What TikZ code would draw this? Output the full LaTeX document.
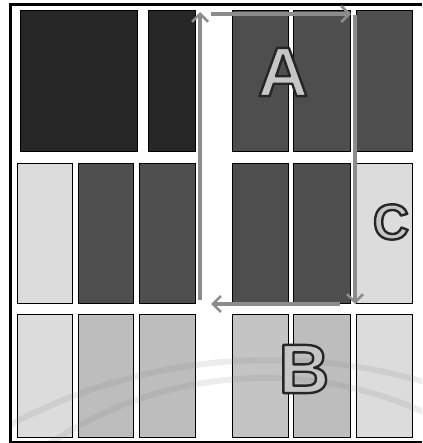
\documentclass[tikz,border=0pt]{standalone}
\usepackage{fontspec}
\setmainfont{Liberation Sans}
\usetikzlibrary{arrows.meta}
\definecolor{vdark}{HTML}{262626}
\definecolor{dgray}{HTML}{4E4E4E}
\definecolor{mgray}{HTML}{BDBDBD}
\definecolor{lgray}{HTML}{DCDCDC}
\definecolor{argray}{HTML}{8C8C8C}
\newcommand{\outl}[1]{\special{pdf:code q 0.15 G 2.4 w 1 J 1 j 2 Tr}#1\special{pdf:code 0 Tr Q}}
\tikzset{
  cell/.style={draw=black,line width=1pt},
  arr/.style={draw=argray,line width=3.5pt,-{Straight Barb[length=8pt,width=16pt,line width=2.5pt]}},
  letter/.style={text=gray!45,font=\bfseries\fontsize{70}{72}\selectfont,inner sep=0pt},
  wmark/.style={draw=gray,opacity=0.15,line width=6pt}
}
\begin{document}
\begin{tikzpicture}[x=1pt,y=-1pt]
\useasboundingbox (0,0) rectangle (422,443);
\fill[white] (0,0) rectangle (422,443);
% frame
\draw[line width=3pt] (10,445) -- (10,4.5) -- (422,4.5);
\draw[line width=2pt] (10,441.5) -- (422,441.5);
% top row
\path[cell,fill=vdark] (20,11) rectangle (137,152);
\path[cell,fill=vdark] (148,11) rectangle (195,152);
\path[cell,fill=dgray] (232,11) rectangle (288,152);
\path[cell,fill=dgray] (293,11) rectangle (350,152);
\path[cell,fill=dgray] (356,11) rectangle (412,152);
% middle row
\path[cell,fill=lgray] (17,164) rectangle (72,303);
\path[cell,fill=dgray] (78,164) rectangle (133,303);
\path[cell,fill=dgray] (139,164) rectangle (195,303);
\path[cell,fill=dgray] (232,164) rectangle (288,303);
\path[cell,fill=dgray] (293,164) rectangle (350,303);
\path[cell,fill=lgray] (356,164) rectangle (412,303);
% bottom row
\path[cell,fill=lgray] (17,314) rectangle (72,437);
\path[cell,fill=mgray] (78,314) rectangle (133,437);
\path[cell,fill=mgray] (139,314) rectangle (195,437);
\path[cell,fill=mgray!90!white] (232,314) rectangle (288,437);
\path[cell,fill=mgray] (293,314) rectangle (350,437);
\path[cell,fill=lgray] (356,314) rectangle (412,437);
% watermark arcs
\begin{scope}
\clip (12,340) rectangle (422,440);
\draw[wmark] (270,911) circle[radius=551];
\draw[wmark] (265,764) circle[radius=386];
\end{scope}
% arrows
\coordinate (p1) at (200,300);
\coordinate (p2) at (200,12);
\coordinate (p3) at (211,14);
\coordinate (p4) at (351,14);
\coordinate (p5) at (355,15);
\coordinate (p6) at (355,304);
\coordinate (p7) at (340,304);
\coordinate (p8) at (211,304);
\draw[arr] (p1) -- (p2);
\draw[arr] (p3) -- (p4);
\draw[arr] (p5) -- (p6);
\draw[arr] (p7) -- (p8);
% letters
\node[letter] (A) at (283,72) {\outl{A}};
\node[letter] (B) at (304,369) {\outl{B}};
\node[letter,font=\bfseries\fontsize{50}{52}\selectfont] (C) at (391,222) {\outl{C}};
\end{tikzpicture}
\end{document}
